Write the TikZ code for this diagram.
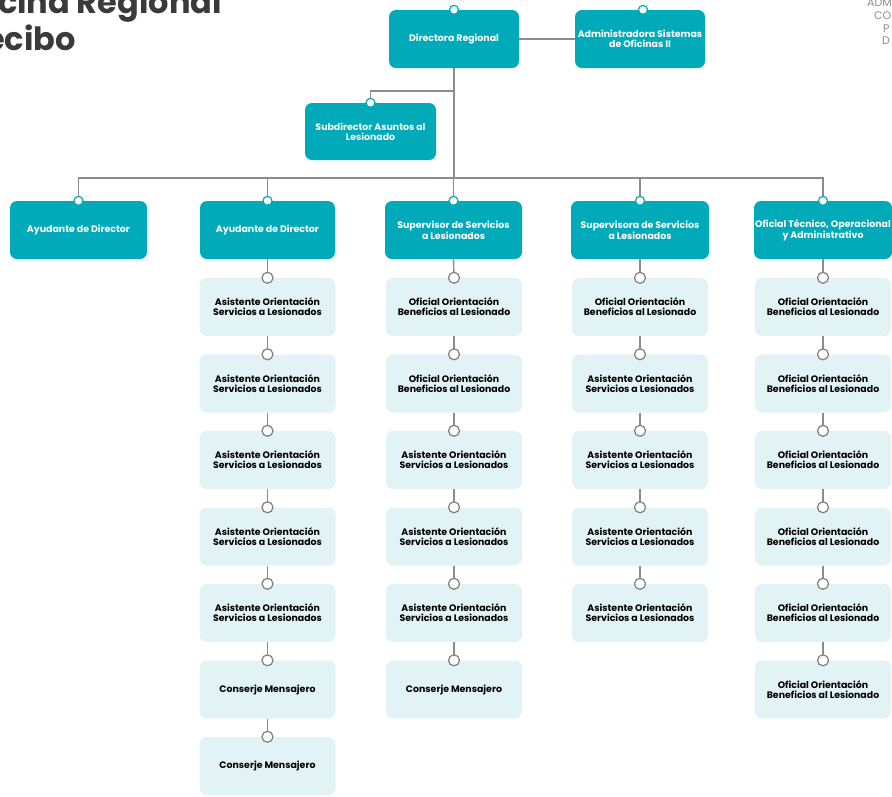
\documentclass[tikz,border=0pt]{standalone}
\usepackage{fontspec}
\setmainfont{Poppins}
\definecolor{teal}{HTML}{00AAB9}
\definecolor{pale}{HTML}{E2F3F6}
\definecolor{wire}{HTML}{8C8C8C}
\definecolor{ink}{HTML}{3A3A3C}
\definecolor{faint}{HTML}{8E8E8E}
\begin{document}
\begin{tikzpicture}[x=1pt,y=-1pt,
  boxfont/.style={font=\bfseries\fontsize{9.4}{9.8}\selectfont},
  head/.style={rectangle, rounded corners=7pt, fill=teal, text=white, boxfont,
    align=center, inner sep=0pt, minimum width=136pt, minimum height=58pt},
  staff/.style={head, fill=pale, text=black},
  wirestyle/.style={draw=wire, line width=1.4pt},
  tealpin/.style={draw=teal, fill=white, line width=1.2pt},
  graypin/.style={draw=wire!90!black, fill=white, line width=1.2pt}]
\useasboundingbox (0,0) rectangle (892,796);
\clip (0,0) rectangle (892,796);

% title and header text
\node[anchor=base east, inner sep=0pt, text=ink, font=\bfseries\fontsize{32}{36}\selectfont] (t1) at (222,13) {Oficina Regional};
\node[anchor=base east, inner sep=0pt, text=ink, font=\bfseries\fontsize{32}{36}\selectfont] (t2) at (76,50) {Arecibo};
\begin{scope}[every node/.style={anchor=base west, inner sep=0pt, text=faint, font=\fontsize{11}{12}\selectfont}]
  \node (h1) at (867,6) {ADM};
  \node (h2) at (874,19) {CO};
  \node (h3) at (883,32) {P};
  \node (h4) at (882,44) {D};
\end{scope}

% top level
\node[head, minimum width=130pt] (dir) at (454,39) {Directora Regional};
\node[head, minimum width=130pt] (adm) at (640,39) {Administradora Sistemas\\de Oficinas II};
\node[head, minimum width=131pt, minimum height=57pt] (sub) at (370.5,131.5) {Subdirector Asuntos al\\Lesionado};

% second level
\node[head, minimum width=137pt] (a1) at (78.5,230) {Ayudante de Director};
\node[head, minimum width=135pt] (a2) at (267.5,230) {Ayudante de Director};
\node[head, minimum width=137pt] (a3) at (453.5,230) {Supervisor de Servicios\\a Lesionados};
\node[head, minimum width=138pt] (a4) at (640,230) {Supervisora de Servicios\\a Lesionados};
\node[head, minimum width=138pt] (a5) at (823,230) {Oficial Técnico, Operacional\\y Administrativo};

\coordinate (bus) at (454,178);
\coordinate (fork) at (454,91);

\draw[wirestyle] (dir.east) -- (adm.west);
\draw[wirestyle] (dir.south) -- (dir.south |- bus);
\draw[wirestyle] (fork) -| (sub.north);
\draw[wirestyle] (a1.north) |- (bus) -| (a5.north);
\foreach \n in {a2,a3,a4} \draw[wirestyle] (\n.north) -- (\n.north |- bus);

\draw[tealpin] (dir.north) circle (4.5pt);
\draw[tealpin] ([xshift=3pt]adm.north) circle (4.5pt);
\draw[tealpin] (sub.north) circle (4.5pt);
\foreach \n in {a1,a2,a3,a4,a5} \draw[tealpin] (\n.north) circle (4.5pt);

% staff columns
\def\asist{Asistente Orientación\\Servicios a Lesionados}
\def\ofic{Oficial Orientación\\Beneficios al Lesionado}
\def\conserje{Conserje Mensajero}

\newcommand\staffcol[4]{% parent, prefix, x, list of texts
  \foreach \txt [count=\i] in {#4} {
    \pgfmathtruncatemacro\prev{\i-1}
    \node[staff, minimum width=136pt] (#2\i) at (#3, {307+(\i-1)*76.5}) {\txt};
    \ifnum\i=1
      \draw[wirestyle] (#1.south) -- (#2\i.north);
    \else
      \draw[wirestyle] (#2\prev.south) -- (#2\i.north);
    \fi
    \draw[graypin] (#2\i.north) circle (5.5pt);
  }}

\staffcol{a2}{b}{267.5}{\asist,\asist,\asist,\asist,\asist,\conserje,\conserje}
\staffcol{a3}{c}{454}{\ofic,\ofic,\asist,\asist,\asist,\conserje}
\staffcol{a4}{d}{640}{\ofic,\asist,\asist,\asist,\asist}
\staffcol{a5}{e}{823}{\ofic,\ofic,\ofic,\ofic,\ofic,\ofic}
\end{tikzpicture}
\end{document}
